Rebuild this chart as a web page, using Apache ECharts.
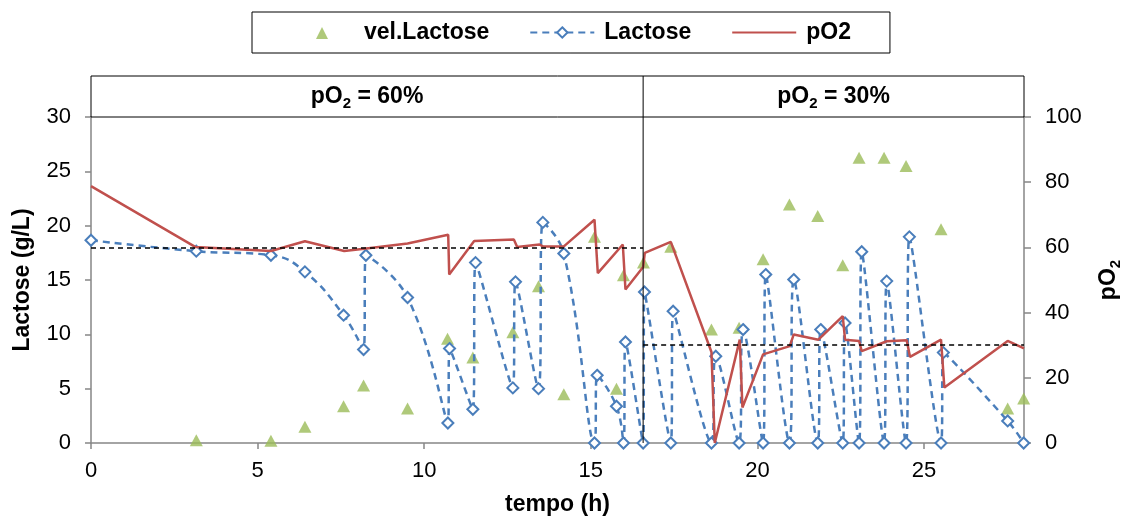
<!DOCTYPE html>
<html><head><meta charset="utf-8">
<script src="https://cdn.jsdelivr.net/npm/echarts@6/dist/echarts.min.js"></script>
<style>html,body{margin:0;padding:0;background:#fff}#c{width:1126px;height:520px}</style>
</head><body><div id="c"></div>
<script>
// ---- data ----
const lacT = [0,3.16,5.40,6.42,7.58,8.18,8.25,9.50,10.71,10.76,11.46,11.54,12.66,12.74,13.43,13.56,14.19,15.11,15.19,15.77,15.98,16.04,16.57,16.61,17.40,17.47,18.62,18.75,19.45,19.57,20.17,20.25,20.96,21.09,21.81,21.90,22.56,22.63,23.05,23.13,23.80,23.88,24.46,24.56,25.51,25.58,27.51,27.99];
const lacV = [18.66,17.65,17.28,15.75,11.76,8.6,17.28,13.39,1.84,8.69,3.1,16.6,5.07,14.83,5.0,20.3,17.44,0,6.23,3.38,0,9.3,0,13.9,0,12.13,0,7.98,0,10.44,0,15.5,0,15.04,0,10.44,0,11.05,0,17.6,0,14.9,0,18.97,0,8.32,2.03,0];
const pO2T = [0,3.14,5.40,6.42,7.60,8.20,9.50,10.72,10.75,11.50,12.69,12.79,13.46,13.56,14.19,15.11,15.21,15.96,16.04,16.57,16.62,17.40,18.62,18.72,19.47,19.55,20.17,20.97,21.09,21.83,22.56,22.63,23.05,23.13,23.88,24.48,24.58,25.51,25.61,27.51,28.0];
const pO2V = [78.8,60.1,58.9,61.9,58.9,59.6,61.2,63.9,51.7,62,62.4,60.1,60.9,60.3,60.3,68.5,52.1,60.9,47.1,54,58.3,61.7,27.9,0,31.7,10.9,27.2,29.7,33.3,31.7,38.9,31.7,31.3,28.2,31.2,31.5,26.4,31.7,17,31.3,29];
const velT = [3.16,5.40,6.42,7.58,8.18,9.50,10.70,11.46,12.66,13.43,14.19,15.11,15.77,15.98,16.58,17.40,18.62,19.45,20.17,20.96,21.81,22.56,23.05,23.80,24.46,25.51,27.51,27.99];
const velV = [0.25,0.2,1.5,3.38,5.3,3.17,9.6,7.86,10.2,14.43,4.48,18.97,5.0,15.44,16.6,18.05,10.44,10.6,16.9,21.95,20.9,16.36,26.24,26.24,25.48,19.68,3.17,4.09];
const xTicks = [0,5,10,15,20,25];
const phaseSplit = 16.57;          // time where pO2 set-point changes
const setPoints = [60, 30];        // pO2 set-points (%)
const phaseLabels = ['60%', '30%'];
const xRange = [0, 28];

(function () {
const FF = '"Liberation Sans", Arial, sans-serif';
const zip = (a, b) => a.map((v, i) => [v, b[i]]);
// legend icon: small triangle centred in a 64x13 box (invisible corner points fix the box)
const triIcon = 'path://M0,0L0,0M64,13L64,13M26,13L32,1L38,13Z';

const chart = echarts.init(document.getElementById('c'));
const axisGray = '#868686';
chart.setOption({
  animation: false,
  backgroundColor: '#fff',
  textStyle: { fontFamily: FF },
  grid: { left: 91, right: 102, top: 117, bottom: 77, containLabel: false, outerBoundsMode: 'none' },
  legend: {
    top: 12, left: 252, padding: [9, 39, 9, 38],
    borderColor: '#000', borderWidth: 1,
    itemWidth: 64, itemHeight: 13, itemGap: 40,
    textStyle: { fontSize: 23, fontWeight: 'bold', fontFamily: FF, color: '#000', padding: [0, 0, 0, 5] },
    data: [
      { name: 'vel.Lactose', icon: triIcon },
      { name: 'Lactose' },
      { name: 'pO2', itemStyle: { opacity: 0 } }
    ]
  },
  xAxis: {
    type: 'value', min: xRange[0], max: xRange[1], interval: 5,
    name: 'tempo (h)', nameLocation: 'middle', nameGap: 50,
    nameTextStyle: { fontSize: 23, fontWeight: 'bold', color: '#000', fontFamily: FF },
    axisLine: { show: true, onZero: false, lineStyle: { color: axisGray, width: 1.5 } },
    axisTick: { show: true, length: 6, customValues: xTicks, lineStyle: { color: axisGray, width: 1.5 } },
    axisLabel: { fontSize: 22, color: '#000', margin: 17, fontFamily: FF, customValues: xTicks },
    splitLine: { show: false }
  },
  yAxis: [{
    type: 'value', min: 0, max: 30, interval: 5,
    name: 'Lactose (g/L)', nameLocation: 'middle', nameGap: 57,
    nameTextStyle: { fontSize: 23, fontWeight: 'bold', color: '#000', fontFamily: FF },
    axisLine: { show: true, lineStyle: { color: axisGray, width: 1.5 } },
    axisTick: { show: true, length: 6, lineStyle: { color: axisGray, width: 1.5 } },
    axisLabel: { fontSize: 22, color: '#000', margin: 20, fontFamily: FF },
    splitLine: { show: false }
  }, {
    type: 'value', min: 0, max: 100, interval: 20, position: 'right',
    name: '{a|pO}{b|2}', nameLocation: 'middle', nameGap: 70, nameRotate: 90,
    nameTextStyle: {
      color: '#000',
      rich: {
        a: { fontSize: 23, fontWeight: 'bold', color: '#000', fontFamily: FF },
        b: { fontSize: 15, fontWeight: 'bold', color: '#000', fontFamily: FF, padding: [14, 0, 0, 0] }
      }
    },
    axisLine: { show: true, lineStyle: { color: axisGray, width: 1.5 } },
    axisTick: { show: true, length: 7, lineStyle: { color: axisGray, width: 1.5 } },
    axisLabel: { fontSize: 22, color: '#000', margin: 21, fontFamily: FF },
    splitLine: { show: false }
  }],
  series: [{
    name: 'vel.Lactose', type: 'scatter', yAxisIndex: 0,
    symbol: 'triangle', symbolSize: [13, 12],
    itemStyle: { color: '#9BBB59' },
    data: zip(velT, velV), z: 2
  }, {
    name: 'Lactose', type: 'line', yAxisIndex: 0,
    smooth: 0.45, showAllSymbol: true,
    symbol: 'diamond', symbolSize: 11,
    itemStyle: { color: '#fff', borderColor: '#4A7EBB', borderWidth: 2 },
    lineStyle: { color: '#4A7EBB', width: 2.5, type: [7, 5] },
    data: zip(lacT, lacV), z: 3
  }, {
    name: 'pO2', type: 'line', yAxisIndex: 1,
    symbol: 'none', showSymbol: false,
    itemStyle: { color: '#C0504D' },
    lineStyle: { color: '#C0504D', width: 2.5 },
    data: zip(pO2T, pO2V), z: 4,
    markLine: {
      silent: true, symbol: 'none', label: { show: false }, animation: false,
      lineStyle: { color: '#000', width: 1.5, type: [5, 4] },
      data: [
        [{ coord: [xRange[0], setPoints[0]] }, { coord: [phaseSplit, setPoints[0]] }],
        [{ coord: [phaseSplit, setPoints[1]] }, { coord: [xRange[1], setPoints[1]] }]
      ]
    }
  }]
});

// header band with phase labels, positioned from the axes
const p0 = chart.convertToPixel({ gridIndex: 0 }, [xRange[0], 30]);
const p1 = chart.convertToPixel({ gridIndex: 0 }, [xRange[1], 0]);
const ps = chart.convertToPixel({ gridIndex: 0 }, [phaseSplit, 0]);
const gTop = p0[1], gBottom = p1[1], gLeft = p0[0], gRight = p1[0], gSplit = ps[0];
const hTop = gTop - 41;
const rich = {
  a: { fontSize: 23, fontWeight: 'bold', fill: '#000', fontFamily: FF },
  b: { fontSize: 15, fontWeight: 'bold', fill: '#000', fontFamily: FF, padding: [14, 0, 0, 0] }
};
chart.setOption({
  graphic: [
    { type: 'rect', shape: { x: gLeft, y: hTop, width: gRight - gLeft, height: gTop - hTop }, style: { fill: 'none', stroke: '#000', lineWidth: 1 }, z: 10 },
    { type: 'line', shape: { x1: gSplit, y1: hTop, x2: gSplit, y2: gBottom }, style: { stroke: '#000', lineWidth: 1 }, z: 10 },
    { type: 'text', x: (gLeft + gSplit) / 2, y: (hTop + gTop) / 2, style: { text: '{a|pO}{b|2}{a| = ' + phaseLabels[0] + '}', rich: rich, align: 'center', verticalAlign: 'middle' }, z: 10 },
    { type: 'text', x: (gSplit + gRight) / 2, y: (hTop + gTop) / 2, style: { text: '{a|pO}{b|2}{a| = ' + phaseLabels[1] + '}', rich: rich, align: 'center', verticalAlign: 'middle' }, z: 10 }
  ]
});
})();
</script>
</body></html>
